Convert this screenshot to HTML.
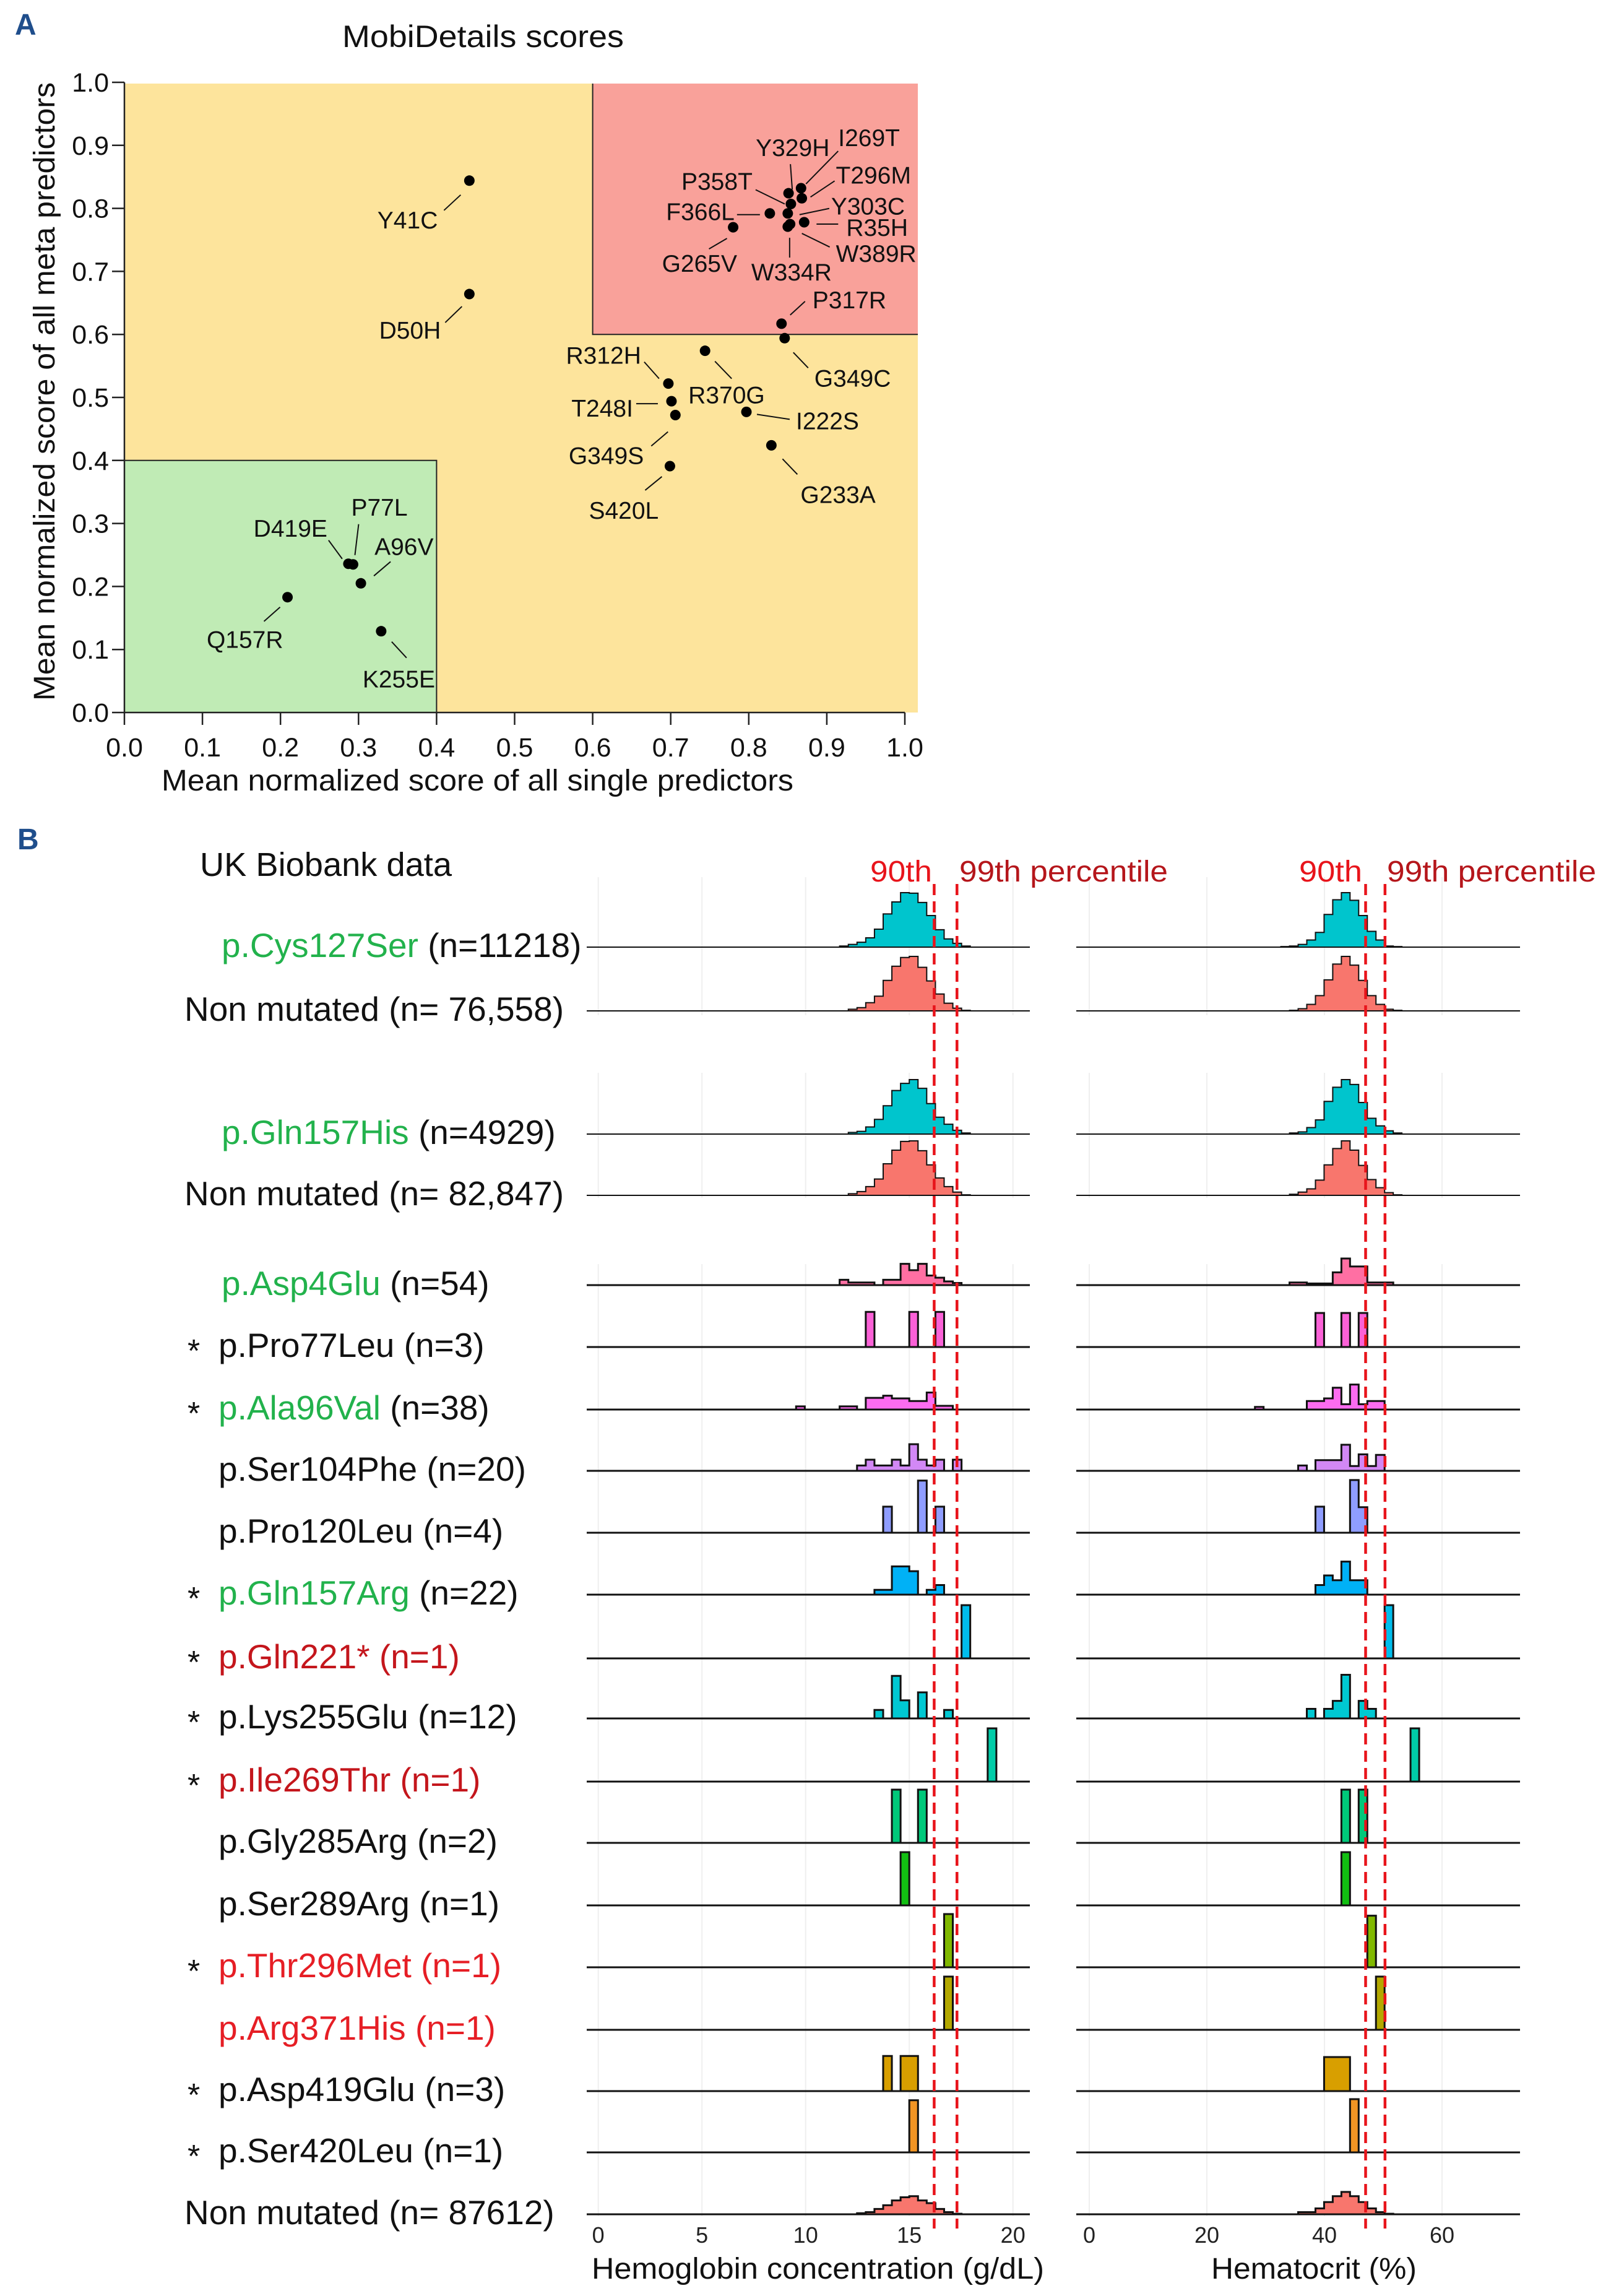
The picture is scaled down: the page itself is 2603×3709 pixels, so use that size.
<!DOCTYPE html>
<html><head><meta charset="utf-8"><title>MobiDetails scores and UK Biobank data</title>
<style>
html,body{margin:0;padding:0;background:#fff;}
svg{display:block;font-family:"Liberation Sans",Arial,sans-serif;}
</style></head>
<body>
<svg id="fig" xmlns="http://www.w3.org/2000/svg" width="2603" height="3709" viewBox="0 0 2603 3709">
  <rect x="0" y="0" width="2603" height="3709" fill="#fff"/>
  <text x="24" y="56" font-size="48" font-weight="bold" fill="#1f4e8c">A</text>
  <text x="28" y="1372" font-size="48" font-weight="bold" fill="#1f4e8c">B</text>
  <text x="553" y="76" font-size="50" textLength="455" lengthAdjust="spacingAndGlyphs" fill="#111">MobiDetails scores</text>
  <g id="scatter"></g>
  <text x="323" y="1415" font-size="54" textLength="407" lengthAdjust="spacingAndGlyphs" fill="#111">UK Biobank data</text>
  <g id="hist"></g>
</svg>
<script>
// ---------- Scatter data ----------
const ptNames = ["Y41C","D50H","Q157R","D419E","P77L","A96V","K255E","R312H","T248I","G349S","S420L","R370G","I222S","G233A","P317R","G349C","G265V","F366L","P358T","Y329H","I269T","T296M","Y303C","R35H","W389R","W334R"];
const ptX = [0.442,0.442,0.209,0.287,0.293,0.303,0.329,0.697,0.701,0.706,0.699,0.744,0.797,0.829,0.842,0.846,0.780,0.827,0.854,0.851,0.867,0.868,0.850,0.871,0.853,0.850];
const ptY = [0.844,0.664,0.183,0.236,0.235,0.205,0.129,0.522,0.494,0.472,0.391,0.574,0.477,0.424,0.617,0.594,0.770,0.792,0.807,0.824,0.832,0.816,0.792,0.778,0.775,0.771];
const scTicks = ["0.0","0.1","0.2","0.3","0.4","0.5","0.6","0.7","0.8","0.9","1.0"];
const lblLayout = {
 "Y41C":[-51,77,"end",-41,48,-14,23],"D50H":[-46,72,"end",-39,46,-12,20],"Q157R":[-7,82,"end",-38,39,-12,16],
 "D419E":[-34,-44,"end",-32,-38,-10,-8],"P77L":[-3,-79,"start",9,-65,3,-15],"A96V":[22,-46,"start",48,-35,21,-12],
 "K255E":[-30,91,"start",17,17,41,43],"R312H":[-44,-32,"end",-39,-35,-15,-8],"T248I":[-62,25,"end",-57,4,-22,4],
 "G349S":[-51,79,"end",-39,50,-12,27],"S420L":[-131,85,"start",-40,39,-13,17],"R370G":[-27,85,"start",16,17,43,45],
 "I222S":[80,28,"start",17,4,70,12],"G233A":[47,93,"start",18,22,42,47],"P317R":[50,-25,"start",14,-14,38,-36],
 "G349C":[48,78,"start",14,23,38,48],"G265V":[-115,72,"start",-39,35,-10,18],"F366L":[-57,11,"end",-53,2,-16,2],
 "P358T":[-62,-23,"end",-57,-23,-10,0],"Y329H":[-53,-60,"start",3,-47,6,-6],"I269T":[60,-68,"start",60,-60,8,-7],
 "T296M":[55,-24,"start",53,-28,14,-2],"Y303C":[70,2,"start",67,-8,19,2],"R35H":[68,22,"start",20,3,55,3],
 "W389R":[74,61,"start",19,15,64,37],"W334R":[-59,87,"start",3,18,3,50]
};
// ---------- Histogram data ----------
const rowLabels = [
 [["p.Cys127Ser","g"],[" (n=11218)","k"]],[["Non mutated (n= 76,558)","k"]],
 [["p.Gln157His","g"],[" (n=4929)","k"]],[["Non mutated (n= 82,847)","k"]],
 [["p.Asp4Glu","g"],[" (n=54)","k"]],[["p.Pro77Leu (n=3)","k"]],[["p.Ala96Val","g"],[" (n=38)","k"]],
 [["p.Ser104Phe (n=20)","k"]],[["p.Pro120Leu (n=4)","k"]],[["p.Gln157Arg","g"],[" (n=22)","k"]],
 [["p.Gln221* (n=1)","dr"]],[["p.Lys255Glu (n=12)","k"]],[["p.Ile269Thr (n=1)","dr"]],
 [["p.Gly285Arg (n=2)","k"]],[["p.Ser289Arg (n=1)","k"]],[["p.Thr296Met (n=1)","r"]],
 [["p.Arg371His (n=1)","r"]],[["p.Asp419Glu (n=3)","k"]],[["p.Ser420Leu (n=1)","k"]],[["Non mutated (n= 87612)","k"]]
];
const rowStar = [0,0,0,0,0,1,1,0,0,1,1,1,1,0,0,1,0,1,1,0];
const hbStart = [-8,-7,-7,-7,-8,-5,-13,-6,-3,-4,6,-4,9,-2,-1,4,4,-3,0,-6];
const hbHeights = [
 [.02,.05,.09,.17,.33,.61,.83,1.0,.99,.82,.58,.32,.15,.07,.02],
 [.03,.06,.15,.27,.56,.82,.98,1.0,.8,.55,.31,.14,.05,.01],
 [.03,.05,.13,.27,.52,.8,.93,1.0,.84,.56,.31,.18,.07,.02],
 [.03,.07,.16,.3,.58,.83,.99,1.0,.82,.56,.32,.16,.06,.01],
 [.10,.05,.05,.05,0,.10,.10,.40,.28,.40,.18,.14,.07,.04],
 [.66,0,0,0,0,.66,0,0,.66],
 [.06,0,0,0,0,.06,.06,0,.22,.22,.26,.21,.21,.16,.16,.32,.07,.07],
 [.10,.21,.10,.10,.21,.10,.50,.21,.10,.21,0,.21],
 [.49,0,0,0,.98,0,.49],
 [.09,.09,.53,.53,.44,0,.09,.18],
 [1],
 [.16,0,.8,.34,0,.49,0,0,.16],
 [1],[1,0,0,1],[1],[1],[1],
 [.66,0,.66,.66],[.98],
 [.02,.04,.10,.17,.26,.32,.34,.26,.21,.10,.04,.01]
];
const hctStart = [-8,-7,-7,-7,-7,-4,-11,-6,-4,-4,4,-5,7,-1,-1,2,3,-3,0,-6];
const hctHeights = [
 [.01,.02,.05,.13,.27,.60,.87,1.0,.86,.58,.29,.13,.02,.01],
 [.01,.04,.12,.28,.57,.86,1.0,.84,.56,.28,.12,.03,.01],
 [.02,.04,.12,.26,.6,.86,1.0,.91,.58,.29,.15,.06,.02],
 [.02,.06,.12,.28,.56,.86,1.0,.83,.55,.29,.14,.05,.01],
 [.05,.05,.03,.03,.03,.24,.50,.35,.35,.05,.05,.05],
 [.64,0,0,.64,0,.64],
 [.05,0,0,0,0,0,.16,.16,.21,.41,.10,.47,.10,.16,.16],
 [.10,0,.20,.20,.20,.49,.09,.31,.09,.30],
 [.49,0,0,0,.99,.48],
 [.18,.36,.27,.62,.27,.27],
 [1],
 [.18,0,.18,.33,.82,0,.33,.18],
 [1],[1,0,1],[1],[.97],[1],
 [.64,.64,.64],[1],
 [.04,.04,.11,.23,.34,.42,.34,.23,.11,.04,.01]
];
const rowFill = ["#00c5cd","#f8766d","#00c5cd","#f8766d","#ff6fa3","#fb61d7","#fc6cf0","#d288f5","#8f9dff","#00b1f6","#00bdec","#00c8d2","#00cca8","#00c87a","#12bf12","#80b800","#b3a800","#d89f00","#f29524","#f8766d"];
const hbTicks = [0,5,10,15,20];
const hctTicks = [0,20,40,60];
const hbPct = [16.2,17.3];
const hctPct = [47.0,50.3];
const hbBinW = 0.42, hbBin0 = 15;
const hctBinW = 1.47, hctBin0 = 44.35;

const NS = "http://www.w3.org/2000/svg";
function mk(tag, attrs, parent){
  const e = document.createElementNS(NS, tag);
  for (const k in attrs) e.setAttribute(k, attrs[k]);
  parent.appendChild(e);
  return e;
}
// ---------- Scatter ----------
const sc = document.getElementById('scatter');
const sx = v => 201 + v*1261;
const sy = v => 1151 - v*1018;
let e;
e = mk('rect',{x:sx(0),y:135,width:1483-sx(0),height:sy(0)-135,fill:'#fde49c'},sc);


e = mk('rect',{x:sx(0.6),y:135,width:1483-sx(0.6),height:sy(0.6)-135,fill:'#f9a19a'},sc);


e = mk('path',{d:`M${sx(0.6)},135V${sy(0.6)}H1483`,stroke:'#222','stroke-width':2,fill:'none'},sc);


e = mk('rect',{x:sx(0),y:sy(0.4),width:sx(0.4)-sx(0),height:sy(0)-sy(0.4),fill:'#c0ebb5'},sc);


e = mk('path',{d:`M${sx(0)},${sy(0.4)}H${sx(0.4)}V${sy(0)}`,stroke:'#222','stroke-width':2,fill:'none'},sc);


e = mk('path',{d:`M${sx(0)},${sy(1)}V${sy(0)}H${sx(1)}`,stroke:'#222','stroke-width':2.5,fill:'none'},sc);


scTicks.forEach((t,i)=>{
  const v = parseFloat(t);
  let l = mk('line',{x1:sx(0)-20,x2:sx(0),y1:sy(v),y2:sy(v),stroke:'#222','stroke-width':2.5},sc);
  
  
  let tx = mk('text',{x:176,y:sy(v)+15,'font-size':43,'text-anchor':'end',fill:'#111'},sc);
  tx.textContent = t;
  
  
  l = mk('line',{x1:sx(v),x2:sx(v),y1:sy(0),y2:sy(0)+20,stroke:'#222','stroke-width':2.5},sc);
  
  
  tx = mk('text',{x:sx(v),y:1222,'font-size':43,'text-anchor':'middle',fill:'#111'},sc);
  tx.textContent = t;
  
  
});
e = mk('text',{x:261,y:1277,'font-size':48,textLength:1021,lengthAdjust:'spacingAndGlyphs',fill:'#111'},sc);
e.textContent = 'Mean normalized score of all single predictors';


e = mk('text',{x:0,y:0,'font-size':48,textLength:999,lengthAdjust:'spacingAndGlyphs',fill:'#111',transform:'translate(88,1132) rotate(-90)'},sc);
e.textContent = 'Mean normalized score of all meta predictors';


ptNames.forEach((n,i)=>{
  const px = sx(ptX[i]), py = sy(ptY[i]);
  const L = lblLayout[n];
  const ln = mk('line',{x1:px+L[3],y1:py+L[4],x2:px+L[5],y2:py+L[6],stroke:'#111','stroke-width':2},sc);
  
  
  const c = mk('circle',{cx:px,cy:py,r:8.5,fill:'#000'},sc);
  
  
  const t = mk('text',{x:px+L[0],y:py+L[1],'font-size':39,'text-anchor':L[2],fill:'#111'},sc);
  t.textContent = n;
  
  
});

// ---------- Histograms ----------
const hg = document.getElementById('hist');
const rowsY = [1530,1633,1832,1931,2076,2176,2277,2376,2476,2576,2679,2776,2878,2977,3078,3178,3279,3378,3477,3577];
const xHb = g => 966.7 + 33.5*g;
const xHct = h => 1760 + 9.5*h;
const hbL = 948, hbR = 1664, hctL = 1739, hctR = 2456;
const gridSegs = [[1417,1640],[1733,1935],[2042,3580]];
gridSegs.forEach(s=>{
  hbTicks.forEach(t=>{
    const l = mk('line',{x1:xHb(t),x2:xHb(t),y1:s[0],y2:s[1],stroke:'#efefef','stroke-width':2},hg);
    
    
  });
  hctTicks.forEach(t=>{
    const l = mk('line',{x1:xHct(t),x2:xHct(t),y1:s[0],y2:s[1],stroke:'#efefef','stroke-width':2},hg);
    
    
  });
});
const colMap = {g:'#22b24c',k:'#111',r:'#e61e25',dr:'#c4161c'};
function histPath(xf, b0, bw, start, hs, base, unit){
  let d = `M${xf(b0+bw*start)},${base}`;
  hs.forEach((h,i)=>{
    const xa = xf(b0+bw*(start+i)), xb = xf(b0+bw*(start+i+1));
    const y = base - h*unit;
    d += `L${xa},${y}L${xb},${y}`;
  });
  d += `L${xf(b0+bw*(start+hs.length))},${base}Z`;
  return d;
}
rowsY.forEach((base,i)=>{
  const big = i<4;
  const unit = big ? 88 : 86;
  const sw = big ? 2 : 3;
  const lx = rowLabels[i][0][0].startsWith('Non') ? 298 : (rowStar[i] ? 353 : (i<5 ? 358 : 353));
  const t = mk('text',{x:lx,y:base+16,'font-size':55},hg);
  
  
  rowLabels[i].forEach(p=>{
    const ts = mk('tspan',{fill:colMap[p[1]]},t);
    ts.textContent = p[0];
    
    
  });
  if (rowStar[i]) {
    const st = mk('text',{x:303,y:base+24,'font-size':52,fill:'#111'},hg);
    st.textContent = '*';
    
    
  }
  let bl = mk('line',{x1:hbL,x2:hbR,y1:base,y2:base,stroke:'#111','stroke-width':sw},hg);
  
  
  let p = mk('path',{d:histPath(xHb,hbBin0,hbBinW,hbStart[i],hbHeights[i],base,unit),fill:rowFill[i],stroke:'#111','stroke-width':sw,'stroke-linejoin':'miter'},hg);
  
  
  bl = mk('line',{x1:hctL,x2:hctR,y1:base,y2:base,stroke:'#111','stroke-width':sw},hg);
  
  
  p = mk('path',{d:histPath(xHct,hctBin0,hctBinW,hctStart[i],hctHeights[i],base,unit),fill:rowFill[i],stroke:'#111','stroke-width':sw,'stroke-linejoin':'miter'},hg);
  
  
});
hbPct.forEach(v=>{
  const l = mk('line',{x1:xHb(v),x2:xHb(v),y1:1428,y2:3600,stroke:'#e8141b','stroke-width':4.5,'stroke-dasharray':'18 10'},hg);
  
  
});
hctPct.forEach(v=>{
  const l = mk('line',{x1:xHct(v),x2:xHct(v),y1:1428,y2:3600,stroke:'#e8141b','stroke-width':4.5,'stroke-dasharray':'18 10'},hg);
  
  
});
[[1406,100,'90th','#e8141b'],[1550,337,'99th percentile','#b5161b'],[2099,102,'90th','#e8141b'],[2241,338,'99th percentile','#b5161b']].forEach(a=>{
  const t = mk('text',{x:a[0],y:1424,'font-size':48,textLength:a[1],lengthAdjust:'spacingAndGlyphs',fill:a[3]},hg);
  t.textContent = a[2];
  
  
});
hbTicks.forEach(v=>{
  const t = mk('text',{x:xHb(v),y:3623,'font-size':36,'text-anchor':'middle',fill:'#222'},hg);
  t.textContent = v;
  
  
});
hctTicks.forEach(v=>{
  const t = mk('text',{x:xHct(v),y:3623,'font-size':36,'text-anchor':'middle',fill:'#222'},hg);
  t.textContent = v;
  
  
});
e = mk('text',{x:956,y:3681,'font-size':48,textLength:731,lengthAdjust:'spacingAndGlyphs',fill:'#111'},hg);
e.textContent = 'Hemoglobin concentration (g/dL)';


e = mk('text',{x:1957,y:3681,'font-size':48,textLength:332,lengthAdjust:'spacingAndGlyphs',fill:'#111'},hg);
e.textContent = 'Hematocrit (%)';


</script>
</body></html>
